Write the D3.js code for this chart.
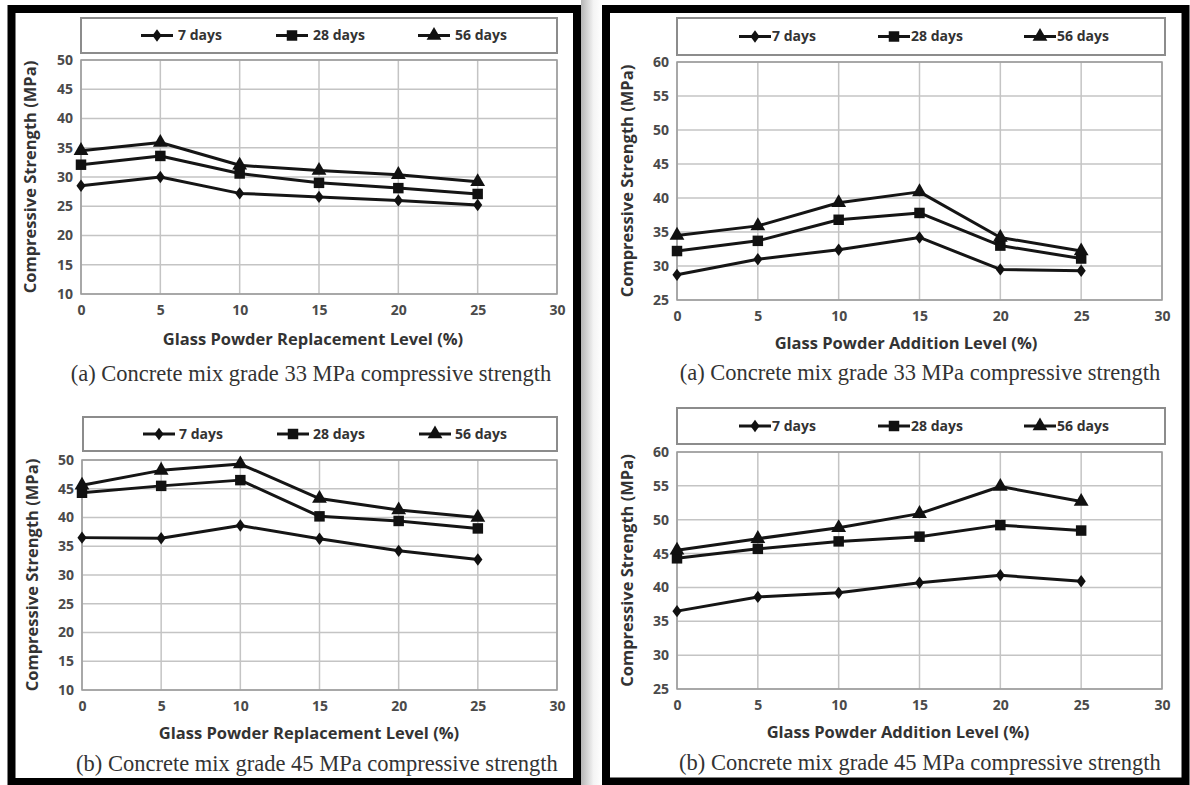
<!DOCTYPE html>
<html>
<head>
<meta charset="utf-8">
<script src="https://cdn.jsdelivr.net/npm/d3@7"></script>
<style>
  body { margin: 0; background: #fff; }
  svg { display: block; }
</style>
</head>
<body>
<svg id="chart" width="1190" height="785"></svg>
<script>
// Data
const levels = [0, 5, 10, 15, 20, 25];
const seriesNames = ["7 days", "28 days", "56 days"];
const xTicks = [0, 5, 10, 15, 20, 25, 30];
const yTicksReplacement = [10, 15, 20, 25, 30, 35, 40, 45, 50];
const yTicksAddition = [25, 30, 35, 40, 45, 50, 55, 60];

// Replacement, 33 MPa
const rep33Day7 = [28.5, 30.0, 27.2, 26.6, 26.0, 25.2];
const rep33Day28 = [32.1, 33.6, 30.6, 29.0, 28.1, 27.1];
const rep33Day56 = [34.5, 35.9, 32.0, 31.1, 30.4, 29.2];
// Addition, 33 MPa
const add33Day7 = [28.7, 31.0, 32.4, 34.2, 29.5, 29.3];
const add33Day28 = [32.2, 33.7, 36.8, 37.8, 33.0, 31.1];
const add33Day56 = [34.5, 35.9, 39.3, 40.9, 34.2, 32.2];
// Replacement, 45 MPa
const rep45Day7 = [36.5, 36.4, 38.6, 36.3, 34.2, 32.7];
const rep45Day28 = [44.3, 45.5, 46.5, 40.2, 39.4, 38.1];
const rep45Day56 = [45.6, 48.2, 49.3, 43.3, 41.3, 40.0];
// Addition, 45 MPa
const add45Day7 = [36.5, 38.6, 39.2, 40.7, 41.8, 40.9];
const add45Day28 = [44.3, 45.7, 46.8, 47.5, 49.2, 48.4];
const add45Day56 = [45.5, 47.2, 48.8, 50.9, 54.9, 52.7];

const svg = d3.select("#chart");
const sans = "'Open Sans', 'DejaVu Sans', sans-serif";
const serif = "'Liberation Serif', 'DejaVu Serif', serif";

// Gray shadow between the two framed columns
const defs = svg.append("defs");
const grad = defs.append("linearGradient").attr("id", "gap");
grad.append("stop").attr("offset", "0%").attr("stop-color", "#b5b5b5");
grad.append("stop").attr("offset", "60%").attr("stop-color", "#f4f4f4");
grad.append("stop").attr("offset", "100%").attr("stop-color", "#ffffff");
svg.append("rect").attr("x", 581).attr("y", 0).attr("width", 21).attr("height", 785)
    .attr("fill", "url(#gap)");

// Black frames around each column
svg.append("rect").attr("x", 11.5).attr("y", 9).attr("width", 565.5).attr("height", 773)
    .attr("fill", "none").attr("stroke", "#000").attr("stroke-width", 8);
svg.append("rect").attr("x", 606).attr("y", 9).attr("width", 579.5).attr("height", 772.5)
    .attr("fill", "none").attr("stroke", "#000").attr("stroke-width", 8);

// Panel settings
const panels = [
  { series: [rep33Day7, rep33Day28, rep33Day56], yTicks: yTicksReplacement,
    left: 81, right: 557, top: 60, bottom: 294,
    legend: { x0: 81, x1: 557, y0: 18, y1: 53, items: [141, 276, 418], gap: 5 },
    yLabelX: 30, xLabel: "Glass Powder Replacement Level (%)", xLabelX: 313, xLabelY: 339,
    caption: "(a) Concrete mix grade 33 MPa compressive strength", capX: 311, capY: 373 },
  { series: [add33Day7, add33Day28, add33Day56], yTicks: yTicksAddition,
    left: 677, right: 1162, top: 62, bottom: 300,
    legend: { x0: 677, x1: 1165, y0: 18, y1: 55, items: [739, 878, 1024], gap: 1 },
    yLabelX: 627, xLabel: "Glass Powder Addition Level (%)", xLabelX: 906, xLabelY: 343,
    caption: "(a) Concrete mix grade 33 MPa compressive strength", capX: 920, capY: 372 },
  { series: [rep45Day7, rep45Day28, rep45Day56], yTicks: yTicksReplacement,
    left: 82, right: 557, top: 460, bottom: 690,
    legend: { x0: 83, x1: 557, y0: 417, y1: 451, items: [143, 277, 419], gap: 4 },
    yLabelX: 32, xLabel: "Glass Powder Replacement Level (%)", xLabelX: 309, xLabelY: 733,
    caption: "(b) Concrete mix grade 45 MPa compressive strength", capX: 317, capY: 763 },
  { series: [add45Day7, add45Day28, add45Day56], yTicks: yTicksAddition,
    left: 677, right: 1162, top: 452, bottom: 689,
    legend: { x0: 677, x1: 1165, y0: 408, y1: 444, items: [739, 878, 1024], gap: 1 },
    yLabelX: 627, xLabel: "Glass Powder Addition Level (%)", xLabelX: 898, xLabelY: 732,
    caption: "(b) Concrete mix grade 45 MPa compressive strength", capX: 920, capY: 762 }
];

const symbols = [d3.symbolDiamond, d3.symbolSquare, d3.symbolTriangle];
const symbolSizes = [55, 110, 95];

function drawMarker(g, i, x, y) {
  g.append("path")
    .attr("d", d3.symbol().type(symbols[i]).size(symbolSizes[i])())
    .attr("transform", "translate(" + x + "," + y + ")" + (i === 0 ? " scale(1.15,0.9)" : ""))
    .attr("fill", "#111");
}

panels.forEach(p => {
  const g = svg.append("g");

  const xScale = d3.scaleLinear().domain([0, 30]).range([p.left, p.right]);
  const yScale = d3.scaleLinear().domain(d3.extent(p.yTicks)).range([p.bottom, p.top]);

  // Grid lines
  g.append("g").selectAll("line").data(p.yTicks).join("line")
    .attr("x1", p.left).attr("x2", p.right)
    .attr("y1", d => yScale(d)).attr("y2", d => yScale(d))
    .attr("stroke", "#c4c4c4").attr("stroke-width", 1.5);
  g.append("g").selectAll("line").data(xTicks).join("line")
    .attr("x1", d => xScale(d)).attr("x2", d => xScale(d))
    .attr("y1", p.top).attr("y2", p.bottom)
    .attr("stroke", "#c4c4c4").attr("stroke-width", 1.5);

  // Plot border
  g.append("rect")
    .attr("x", p.left).attr("y", p.top)
    .attr("width", p.right - p.left).attr("height", p.bottom - p.top)
    .attr("fill", "none").attr("stroke", "#9a9a9a").attr("stroke-width", 1.5);

  // Axes
  const yAxis = g.append("g")
    .attr("transform", "translate(" + p.left + ",0)")
    .call(d3.axisLeft(yScale).tickValues(p.yTicks).tickSize(0).tickPadding(8));
  const xAxis = g.append("g")
    .attr("transform", "translate(0," + p.bottom + ")")
    .call(d3.axisBottom(xScale).tickValues(xTicks).tickSize(0).tickPadding(11));
  [xAxis, yAxis].forEach(a => {
    a.select(".domain").remove();
    a.selectAll("text")
      .attr("font-family", sans).attr("font-size", 14).attr("font-weight", "bold")
      .attr("fill", "#4a4a4a");
  });

  // Series lines and markers
  const line = d3.line()
    .x((d, i) => xScale(levels[i]))
    .y(d => yScale(d));

  p.series.forEach((s, si) => {
    g.append("path")
      .datum(s)
      .attr("d", line)
      .attr("fill", "none")
      .attr("stroke", "#151515")
      .attr("stroke-width", 3)
      .attr("stroke-linejoin", "round");
    s.forEach((v, i) => drawMarker(g, si, xScale(levels[i]), yScale(v)));
  });

  // Legend
  const L = p.legend;
  g.append("rect")
    .attr("x", L.x0).attr("y", L.y0)
    .attr("width", L.x1 - L.x0).attr("height", L.y1 - L.y0)
    .attr("fill", "#fff").attr("stroke", "#8c8c8c").attr("stroke-width", 2);
  const ly = (L.y0 + L.y1) / 2;
  seriesNames.forEach((name, i) => {
    const lx = L.items[i];
    g.append("line")
      .attr("x1", lx).attr("x2", lx + 32)
      .attr("y1", ly).attr("y2", ly)
      .attr("stroke", "#151515").attr("stroke-width", 3);
    drawMarker(g, i, lx + 16, ly);
    g.append("text")
      .attr("x", lx + 32 + L.gap).attr("y", ly)
      .attr("dy", "0.35em")
      .attr("font-family", sans).attr("font-size", 14).attr("font-weight", "bold")
      .attr("fill", "#333")
      .text(name);
  });

  // Axis titles
  g.append("text")
    .attr("transform", "translate(" + p.yLabelX + "," + ((p.top + p.bottom) / 2) + ") rotate(-90)")
    .attr("text-anchor", "middle").attr("dy", "0.35em")
    .attr("font-family", sans).attr("font-size", 16.5).attr("font-weight", "bold")
    .attr("fill", "#333")
    .text("Compressive Strength (MPa)");
  g.append("text")
    .attr("x", p.xLabelX).attr("y", p.xLabelY)
    .attr("text-anchor", "middle").attr("dy", "0.35em")
    .attr("font-family", sans).attr("font-size", 16.5).attr("font-weight", "bold")
    .attr("fill", "#333")
    .text(p.xLabel);

  // Caption
  g.append("text")
    .attr("x", p.capX).attr("y", p.capY)
    .attr("text-anchor", "middle").attr("dy", "0.35em")
    .attr("font-family", serif).attr("font-size", 22.5)
    .attr("fill", "#333")
    .text(p.caption);
});
</script>
</body>
</html>
